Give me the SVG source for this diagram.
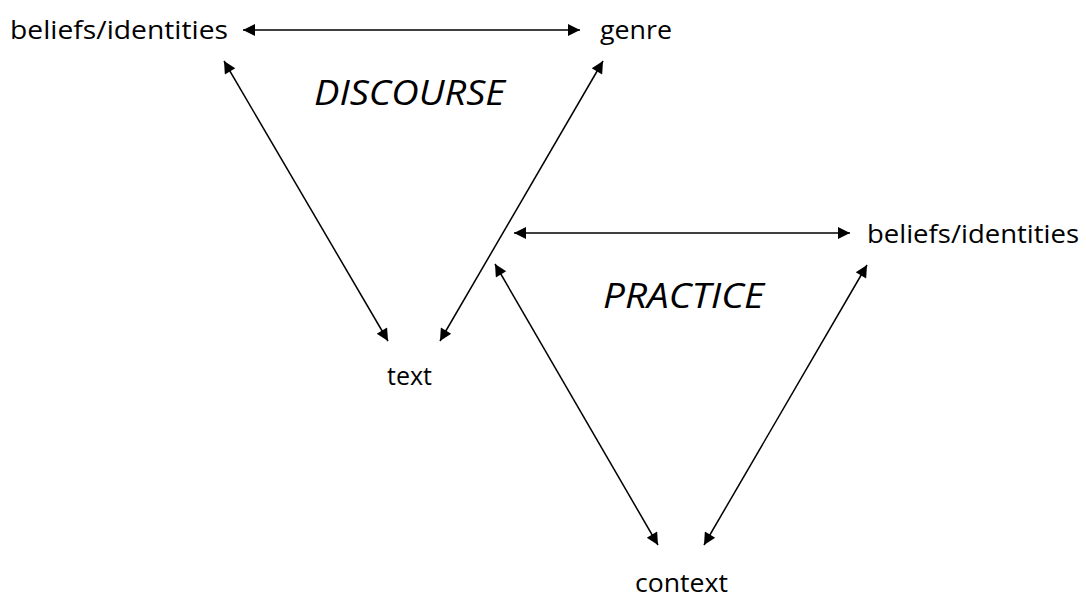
<svg xmlns="http://www.w3.org/2000/svg" width="1086" height="598" viewBox="0 0 1086 598">
  <style>
    .lbl { font-family: "Open Sans", "Noto Sans", "Liberation Sans", sans-serif; font-size: 25px; fill: #000; }
    .title { font-family: "Open Sans", "Noto Sans", "Liberation Sans", sans-serif; font-size: 35px; font-style: italic; fill: #000; }
    .conn { stroke: #000; stroke-width: 1.5; fill: none; marker-start: url(#arrow); marker-end: url(#arrow); }
  </style>
  <defs>
    <marker id="arrow" viewBox="0 0 10 10" refX="10" refY="5" markerWidth="15" markerHeight="12" markerUnits="userSpaceOnUse" orient="auto-start-reverse">
      <path d="M0,0 L10,5 L0,10 Z" fill="#000"/>
    </marker>
  </defs>
  <rect width="1086" height="598" fill="#fff"/>

  <!-- double-headed links of both triangles -->
  <g id="connectors">
    <line class="conn" x1="243" y1="30" x2="580" y2="30"/>
    <line class="conn" x1="224" y1="61" x2="388" y2="341"/>
    <line class="conn" x1="603" y1="61" x2="440" y2="341"/>
    <line class="conn" x1="514" y1="233" x2="850" y2="233"/>
    <line class="conn" x1="495" y1="264" x2="658" y2="545"/>
    <line class="conn" x1="867" y1="265" x2="704" y2="545"/>
  </g>

  <g id="discourse-title"><text class="title" x="314" y="105" textLength="191" lengthAdjust="spacingAndGlyphs">DISCOURSE</text></g>
  <g id="beliefs-top"><text class="lbl" x="10" y="38.5" textLength="218" lengthAdjust="spacingAndGlyphs">beliefs/identities</text></g>
  <g id="genre"><text class="lbl" x="600" y="38.5" textLength="72" lengthAdjust="spacingAndGlyphs">genre</text></g>
  <g id="text"><text class="lbl" x="387" y="385" textLength="45" lengthAdjust="spacingAndGlyphs">text</text></g>

  <g id="practice-title"><text class="title" x="603" y="308" textLength="161" lengthAdjust="spacingAndGlyphs">PRACTICE</text></g>
  <g id="beliefs-right"><text class="lbl" x="867" y="243" textLength="212" lengthAdjust="spacingAndGlyphs">beliefs/identities</text></g>
  <g id="context"><text class="lbl" x="635" y="592" textLength="93" lengthAdjust="spacingAndGlyphs">context</text></g>
</svg>
